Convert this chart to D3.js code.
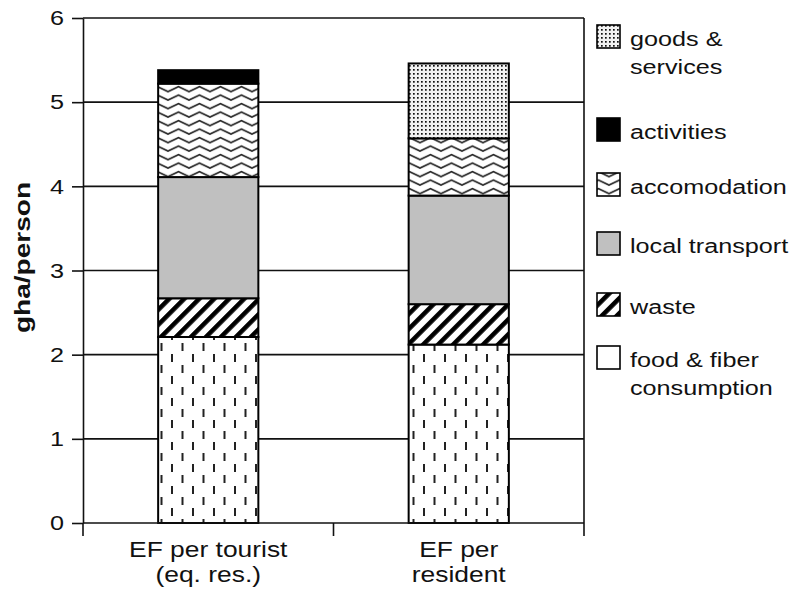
<!DOCTYPE html>
<html>
<head>
<meta charset="utf-8">
<script src="https://cdn.jsdelivr.net/npm/d3@7/dist/d3.min.js"></script>
<style>
  html, body { margin: 0; padding: 0; background: #fff; }
  svg { display: block; }
  text { font-family: "Liberation Sans", Arial, Helvetica, sans-serif; fill: #111; }
</style>
</head>
<body>
<svg id="chart" width="792" height="592"></svg>
<script>
// ---- data ----
const categories = [["EF per tourist", "(eq. res.)"], ["EF per", "resident"]];
const seriesKeys = ["food", "waste", "transport", "accommodation", "activities", "goods"];
const foodFiber      = [2.21, 2.12];
const waste          = [0.46, 0.48];
const localTransport = [1.44, 1.29];
const accommodation  = [1.11, 0.68];
const activities     = [0.16, 0.00];
const goodsServices  = [0.00, 0.89];
const yTicks = [0, 1, 2, 3, 4, 5, 6];
const legendOrder = ["goods", "activities", "accommodation", "transport", "waste", "food"];
const legendLabels = {
  goods: ["goods &", "services"],
  activities: ["activities"],
  accommodation: ["accomodation"],
  transport: ["local transport"],
  waste: ["waste"],
  food: ["food & fiber", "consumption"]
};
const yLabel = "gha/person";

// ---- layout ----
const plot = { left: 83, right: 584, top: 18, bottom: 523 };
const legendTops = [25, 118, 173, 232, 293, 346];
const sx = 1.2; // horizontal stretch of the text in the reference

const svg = d3.select("#chart");
const defs = svg.append("defs");

// patterns
const pFood = defs.append("pattern").attr("id", "p-food").attr("patternUnits", "userSpaceOnUse")
  .attr("width", 21).attr("height", 22);
pFood.append("rect").attr("width", 21).attr("height", 22).attr("fill", "#fff");
pFood.append("rect").attr("x", 3).attr("y", 2).attr("width", 2).attr("height", 8).attr("fill", "#222");
pFood.append("rect").attr("x", 13.5).attr("y", 13).attr("width", 2).attr("height", 8).attr("fill", "#222");

const pWaste = defs.append("pattern").attr("id", "p-waste").attr("patternUnits", "userSpaceOnUse")
  .attr("width", 10.6).attr("height", 10.6).attr("patternTransform", "rotate(45)");
pWaste.append("rect").attr("width", 10.6).attr("height", 10.6).attr("fill", "#fff");
pWaste.append("rect").attr("width", 4.6).attr("height", 10.6).attr("fill", "#000");

const pAcc = defs.append("pattern").attr("id", "p-acc").attr("patternUnits", "userSpaceOnUse")
  .attr("width", 21).attr("height", 8.5);
pAcc.append("rect").attr("width", 21).attr("height", 8.5).attr("fill", "#fff");
pAcc.append("path").attr("d", "M-10.5,1.6 L0,6.6 L10.5,1.6 L21,6.6 L31.5,1.6")
  .attr("fill", "none").attr("stroke", "#222").attr("stroke-width", 1.7);

const pGoods = defs.append("pattern").attr("id", "p-goods").attr("patternUnits", "userSpaceOnUse")
  .attr("width", 4).attr("height", 4);
pGoods.append("rect").attr("width", 4).attr("height", 4).attr("fill", "#f2f2f2");
pGoods.append("rect").attr("x", 1).attr("y", 1).attr("width", 1.7).attr("height", 1.7).attr("fill", "#111");

const fills = {
  food: "url(#p-food)",
  waste: "url(#p-waste)",
  transport: "#c0c0c0",
  accommodation: "url(#p-acc)",
  activities: "#000",
  goods: "url(#p-goods)"
};
const legendFills = Object.assign({}, fills, { food: "#fff" });

// data table
const seriesValues = {
  food: foodFiber, waste: waste, transport: localTransport,
  accommodation: accommodation, activities: activities, goods: goodsServices
};
const table = categories.map((c, i) => {
  const row = { cat: c.join(" ") };
  seriesKeys.forEach(k => row[k] = seriesValues[k][i]);
  return row;
});
const stacked = d3.stack().keys(seriesKeys)(table);

// scales
const x = d3.scaleBand().domain(table.map(d => d.cat)).range([plot.left, plot.right]).padding(0);
const y = d3.scaleLinear().domain([0, 6]).range([plot.bottom, plot.top]);
const barW = x.bandwidth() * 0.4;

// gridlines
svg.append("g").selectAll("line").data(yTicks.filter(t => t > 0)).join("line")
  .attr("x1", plot.left).attr("x2", plot.right)
  .attr("y1", d => y(d)).attr("y2", d => y(d))
  .attr("stroke", "#111").attr("stroke-width", 1.6);

// right border
svg.append("line").attr("x1", plot.right).attr("x2", plot.right)
  .attr("y1", y(6)).attr("y2", y(0)).attr("stroke", "#111").attr("stroke-width", 1.6);

// bars
const gBars = svg.append("g");
stacked.forEach(s => {
  gBars.append("g").selectAll("rect").data(s.filter(d => d[1] - d[0] > 0)).join("rect")
    .attr("x", d => x(d.data.cat) + (x.bandwidth() - barW) / 2)
    .attr("width", barW)
    .attr("y", d => y(d[1]))
    .attr("height", d => y(d[0]) - y(d[1]))
    .attr("fill", fills[s.key])
    .attr("stroke", "#000").attr("stroke-width", 2);
});

// y axis
const yAxis = svg.append("g").attr("transform", `translate(${plot.left},0)`)
  .call(d3.axisLeft(y).tickValues(yTicks).tickFormat(d3.format("d")).tickSize(11).tickPadding(8).tickSizeOuter(0));
yAxis.select(".domain").attr("stroke", "#111").attr("stroke-width", 1.6);
yAxis.selectAll(".tick line").attr("stroke", "#111").attr("stroke-width", 1.6);
yAxis.selectAll(".tick text").each(function() {
  const t = d3.select(this);
  const tx = +t.attr("x");
  t.attr("x", 0).attr("transform", `translate(${tx},0) scale(${sx},1)`)
    .attr("font-size", 21).attr("fill", "#111");
});

// x axis (ticks at category boundaries)
const gx = svg.append("g");
gx.append("line").attr("x1", plot.left).attr("x2", plot.right)
  .attr("y1", plot.bottom).attr("y2", plot.bottom).attr("stroke", "#111").attr("stroke-width", 1.6);
const bounds = [x(table[0].cat)].concat(table.map(d => x(d.cat) + x.bandwidth()));
gx.selectAll("line.tk").data(bounds).join("line").attr("class", "tk")
  .attr("x1", d => d).attr("x2", d => d)
  .attr("y1", plot.bottom).attr("y2", plot.bottom + 13)
  .attr("stroke", "#111").attr("stroke-width", 1.6);
const xl = gx.selectAll("g.xl").data(table).join("g").attr("class", "xl");
xl.each(function(d, i) {
  const cx = x(d.cat) + x.bandwidth() / 2;
  categories[i].forEach((line, j) => {
    d3.select(this).append("text")
      .attr("transform", `translate(${cx},${557 + j * 25}) scale(${sx},1)`)
      .attr("text-anchor", "middle").attr("font-size", 22).text(line);
  });
});

// y label
svg.append("text")
  .attr("transform", `translate(30,257.5) rotate(-90)`)
  .attr("text-anchor", "middle").attr("font-size", 22).attr("font-weight", "bold")
  .attr("textLength", 151).attr("lengthAdjust", "spacingAndGlyphs")
  .text(yLabel);

// legend
const lg = svg.append("g");
legendOrder.forEach((k, i) => {
  const top = legendTops[i];
  lg.append("rect").attr("x", 597).attr("y", top).attr("width", 23).attr("height", 23)
    .attr("fill", legendFills[k]).attr("stroke", "#000").attr("stroke-width", 1.6);
  legendLabels[k].forEach((line, j) => {
    lg.append("text")
      .attr("transform", `translate(630,${top + 21 + j * 28}) scale(${sx},1)`)
      .attr("font-size", 21).text(line);
  });
});
</script>
</body>
</html>
